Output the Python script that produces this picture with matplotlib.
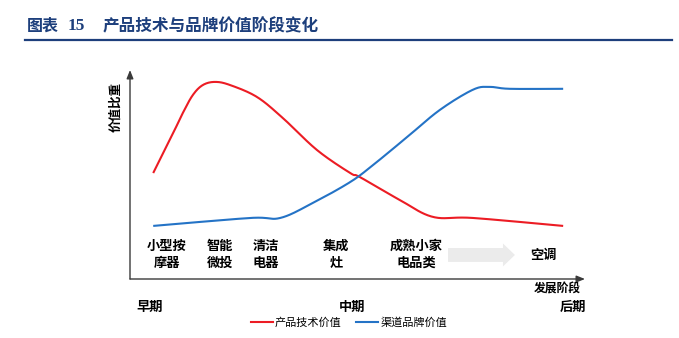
import matplotlib

matplotlib.use("Agg")
import matplotlib.pyplot as plt
import numpy as np
from matplotlib.lines import Line2D
from matplotlib.patches import FancyArrowPatch

plt.rcParams["font.family"] = ["Noto Sans CJK SC", "DejaVu Sans"]

# stage axis runs 0-100, value axis 0-100
tech_x = [5.1, 9.5, 11.6, 13.8, 16.0, 18.7, 22.0, 27.9, 33.6, 41.1, 48.4, 50.5, 59.3, 66.6, 75.4, 95.2]
tech_y = [50.7, 69.9, 79.4, 88.0, 92.8, 94.3, 92.8, 87.1, 77.0, 61.7, 50.7, 48.8, 37.8, 29.7, 29.2, 25.4]
brand_x = [5.1, 26.4, 33.0, 40.2, 48.4, 53.4, 60.9, 68.1, 75.4, 79.1, 83.5, 95.2]
brand_y = [25.4, 29.2, 29.2, 36.4, 46.4, 54.5, 67.9, 80.9, 90.6, 91.9, 91.0, 91.0]

stage_labels = ["小型按\n摩器", "智能\n微投", "清洁\n电器", "集成\n灶", "成熟小家\n电品类", "空调"]
stage_pos = [8.1, 19.8, 29.9, 45.3, 62.9, 90.8]
period_labels = ["早期", "中期", "后期"]
series_names = ["产品技术价值", "渠道品牌价值"]

RED = "#ec1c24"
BLUE = "#2473c6"
NAVY = "#1d3f7c"
W, H = 679, 338


def smooth(xs, ys, steps=20):
    """Catmull-Rom curve through the given points."""
    p = np.column_stack([xs, ys]).astype(float)
    p = np.vstack([p[0], p, p[-1]])
    out = []
    t = np.linspace(0, 1, steps, endpoint=False)[:, None]
    for i in range(1, len(p) - 2):
        p0, p1, p2, p3 = p[i - 1], p[i], p[i + 1], p[i + 2]
        seg = 0.5 * (
            2 * p1
            + (-p0 + p2) * t
            + (2 * p0 - 5 * p1 + 4 * p2 - p3) * t**2
            + (-p0 + 3 * p1 - 3 * p2 + p3) * t**3
        )
        out.append(seg)
    out.append(p[-2][None, :])
    out = np.vstack(out)
    return out[:, 0], out[:, 1]


def fx(px):
    return px / W


def fy(py):
    return 1 - py / H


fig = plt.figure(figsize=(W / 100, H / 100), dpi=100)

# title and rule
fig.text(fx(27), fy(26), "图表", fontsize=11.5, weight="bold", color=NAVY, va="center")
fig.text(fx(68), fy(26), "15", fontsize=12.5, weight="bold", color=NAVY, va="center",
         family="Liberation Serif")
fig.text(fx(103), fy(26), "产品技术与品牌价值阶段变化", fontsize=12, weight="bold",
         color=NAVY, va="center")
fig.add_artist(Line2D([fx(25), fx(672)], [fy(40), fy(40)], color=NAVY, lw=1.6))

ax = fig.add_axes([fx(130), fy(279), fx(585) - fx(130), fy(70) - fy(279)])
ax.set_xlim(0, 100)
ax.set_ylim(0, 100)
ax.axis("off")

# axes with arrow heads
ax.annotate("", xy=(0, 100), xytext=(0, 0),
            arrowprops=dict(arrowstyle="-|>,head_length=0.5,head_width=0.2",
                            color="#3a3a3a", lw=1.0, shrinkA=0, shrinkB=0))
ax.annotate("", xy=(100, 0), xytext=(0, 0),
            arrowprops=dict(arrowstyle="-|>,head_length=0.5,head_width=0.2",
                            color="#3a3a3a", lw=1.0, shrinkA=0, shrinkB=0))

sx, sy = smooth(tech_x, tech_y)
ax.plot(sx, sy, color=RED, lw=1.5, solid_capstyle="butt")
sx, sy = smooth(brand_x, brand_y)
ax.plot(sx, sy, color=BLUE, lw=1.5, solid_capstyle="butt")

for label, pos in zip(stage_labels, stage_pos):
    ax.text(pos, 11.7, label, ha="center", va="center", fontsize=9.5, weight="bold",
            linespacing=1.25)

ax.add_patch(FancyArrowPatch((69.9, 11.5), (84.6, 11.5),
                             arrowstyle="simple,head_length=0.86,head_width=1.65,tail_width=1.0",
                             mutation_scale=10, color="#ebebeb", lw=0,
                             shrinkA=0, shrinkB=0))

fig.text(fx(116), fy(107), "价值比重", rotation=90, ha="center", va="center",
         fontsize=9, weight="bold")
fig.text(fx(557), fy(289), "发展阶段", ha="center", va="center", fontsize=8.5, weight="bold")
for label, px in zip(period_labels, [150, 352, 573]):
    fig.text(fx(px), fy(307), label, ha="center", va="center", fontsize=9.5, weight="bold")

handles = [Line2D([], [], color=RED, lw=1.5), Line2D([], [], color=BLUE, lw=1.5)]
fig.legend(handles, series_names, loc="center", bbox_to_anchor=(fx(349), fy(323)),
           ncol=2, frameon=False, fontsize=8, handlelength=2.0, handletextpad=0.15,
           columnspacing=1.3, borderpad=0)

fig.savefig("out.png", dpi=100)
